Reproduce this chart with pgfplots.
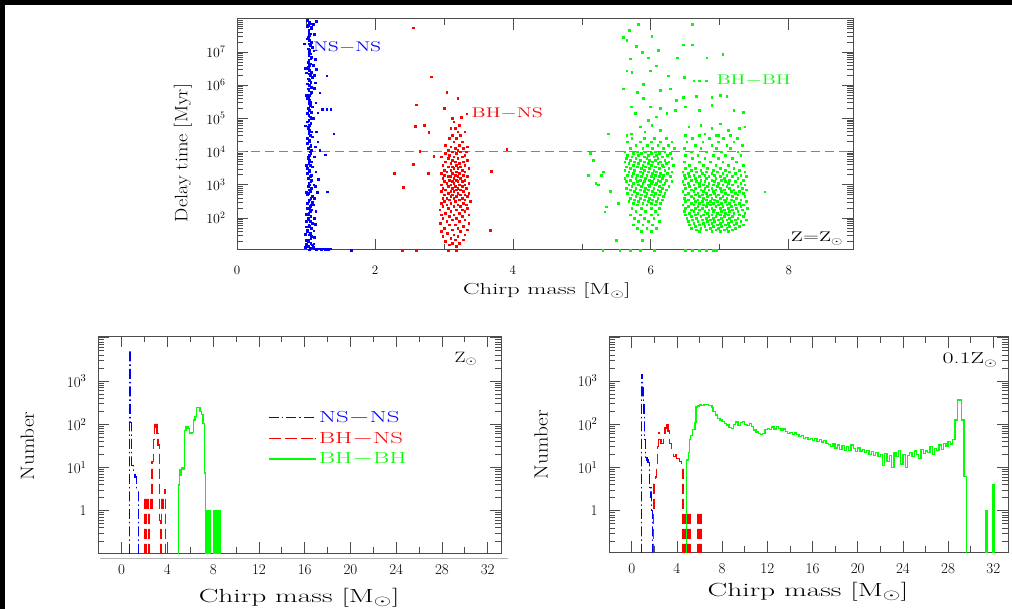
\documentclass[border=0pt]{standalone}
\usepackage{graphicx}
\usepackage{pgfplots}
\pgfplotsset{compat=1.18}
\definecolor{magline}{RGB}{235,60,235}
\newcommand{\wide}[2]{\scalebox{#1}[1]{#2}}
\pgfplotsset{
  pgbase/.style={scale only axis, anchor=south west,
    axis line style={black!70, line width=1pt},
    tick style={black!70, line width=0.8pt},
    major tick length=11pt, minor tick length=6pt,
    clip=true},
  pts/.style={only marks, mark=square*, mark size=0.85pt, mark options={draw=none}, forget plot},
  hist/.style={const plot, line width=1.3pt},
  nsns/.style={hist, blue,
    legend image code/.code={\draw[blue, line width=1.3pt] (0pt,0pt)--(10pt,0pt) (13pt,0pt)--(14.5pt,0pt) (17.5pt,0pt)--(27.5pt,0pt) (30.5pt,0pt)--(32pt,0pt) (35pt,0pt)--(45pt,0pt);}},
  bhns/.style={hist, red,
    legend image code/.code={\draw[red, line width=1.3pt] (0pt,0pt)--(12pt,0pt) (16pt,0pt)--(28pt,0pt) (32pt,0pt)--(44pt,0pt) (46pt,0pt)--(47pt,0pt);}},
  bhbh/.style={hist, green,
    legend image code/.code={\draw[green, line width=1.3pt] (0pt,0pt)--(47pt,0pt);}},
}
% stripe clips imitating the dash patterns (10 on / 5 off and dash-dot), in data units
\newcommand{\redstripes}{\clip (axis cs:-3,0.05) rectangle (axis cs:34,0.1704) (axis cs:-3,0.2224) rectangle (axis cs:34,0.3791) (axis cs:-3,0.4948) rectangle (axis cs:34,0.8432) (axis cs:-3,1.101) rectangle (axis cs:34,1.876) (axis cs:-3,2.448) rectangle (axis cs:34,4.173) (axis cs:-3,5.446) rectangle (axis cs:34,9.281) (axis cs:-3,12.11) rectangle (axis cs:34,20.64) (axis cs:-3,26.95) rectangle (axis cs:34,45.92) (axis cs:-3,59.95) rectangle (axis cs:34,102.2) (axis cs:-3,133.4) rectangle (axis cs:34,227.2) (axis cs:-3,296.6) rectangle (axis cs:34,505.4) (axis cs:-3,659.7) rectangle (axis cs:34,1124) (axis cs:-3,1468) rectangle (axis cs:34,2501) (axis cs:-3,3266) rectangle (axis cs:34,5565);}
\newcommand{\bluestripes}{\clip (axis cs:-3,0.05) rectangle (axis cs:34,0.1703) (axis cs:-3,0.1998) rectangle (axis cs:34,0.2164) (axis cs:-3,0.2540) rectangle (axis cs:34,0.4327) (axis cs:-3,0.5076) rectangle (axis cs:34,0.5497) (axis cs:-3,0.6451) rectangle (axis cs:34,1.099) (axis cs:-3,1.289) rectangle (axis cs:34,1.396) (axis cs:-3,1.638) rectangle (axis cs:34,2.791) (axis cs:-3,3.275) rectangle (axis cs:34,3.546) (axis cs:-3,4.161) rectangle (axis cs:34,7.088) (axis cs:-3,8.317) rectangle (axis cs:34,9.008) (axis cs:-3,10.57) rectangle (axis cs:34,18.00) (axis cs:-3,21.12) rectangle (axis cs:34,22.87) (axis cs:-3,26.84) rectangle (axis cs:34,45.73) (axis cs:-3,53.65) rectangle (axis cs:34,58.10) (axis cs:-3,68.19) rectangle (axis cs:34,116.1) (axis cs:-3,136.3) rectangle (axis cs:34,147.6) (axis cs:-3,173.2) rectangle (axis cs:34,294.9) (axis cs:-3,346.0) rectangle (axis cs:34,374.8) (axis cs:-3,439.8) rectangle (axis cs:34,749.0) (axis cs:-3,878.9) rectangle (axis cs:34,952.0) (axis cs:-3,1117) rectangle (axis cs:34,1902) (axis cs:-3,2232) rectangle (axis cs:34,2417) (axis cs:-3,2837) rectangle (axis cs:34,4832) (axis cs:-3,5670) rectangle (axis cs:34,6141) (axis cs:-3,7206) rectangle (axis cs:34,12270);}
\begin{document}
\begin{tikzpicture}
\useasboundingbox (0pt,0pt) rectangle (1012pt,-609pt);
\fill[black] (0pt,0pt) rectangle (1012pt,-5pt);
\fill[black] (0pt,0pt) rectangle (5pt,-609pt);
\draw[black!30, line width=1pt] (100pt,-558pt) -- (508pt,-558pt);

% ---------------- top panel ----------------
\begin{axis}[pgbase,
  at={(237pt,-250pt)}, width=616pt, height=231pt,
  xmin=0, xmax=8.93, ymode=log, ymin=10.9, ymax=9.9e7,
  xtick={0,2,4,6,8}, xticklabels={0,2,4,6,8}, minor xtick={1,3,5,7},
  ytick={1e2,1e3,1e4,1e5,1e6,1e7},
  yticklabels={10\textsuperscript{2},10\textsuperscript{3},10\textsuperscript{4},10\textsuperscript{5},10\textsuperscript{6},10\textsuperscript{7}},
  minor ytick={20,30,40,50,60,70,80,90,200,300,400,500,600,700,800,900,2000,3000,4000,5000,6000,7000,8000,9000,2e4,3e4,4e4,5e4,6e4,7e4,8e4,9e4,2e5,3e5,4e5,5e5,6e5,7e5,8e5,9e5,2e6,3e6,4e6,5e6,6e6,7e6,8e6,9e6,2e7,3e7,4e7,5e7,6e7,7e7,8e7,9e7},
  xticklabel style={font=\fontsize{13}{13}\selectfont, yshift=-12pt},
  yticklabel style={font=\fontsize{14}{14}\selectfont, xshift=-8pt},
  xlabel={\wide{1.55}{\fontsize{16}{16}\selectfont Chirp mass [M$_\odot$]}},
  xlabel style={at={(axis description cs:0.503,-0.177)}, anchor=center},
  ylabel={\wide{1.12}{\fontsize{18}{18}\selectfont Delay time [Myr]}},
  ylabel style={at={(axis description cs:-0.088,0.42)}, anchor=center},
]
% NS-NS column
\addplot[pts, blue] coordinates {
(1.05,1.12e1)(1.03,1.41e1)(1.07,1.78e1)(1.04,2.24e1)(1.08,2.82e1)(1.06,3.55e1)(1.02,4.47e1)(1.05,5.62e1)(1.09,7.08e1)(1.04,8.91e1)
(1.07,1.12e2)(1.04,1.41e2)(1.08,1.78e2)(1.06,2.24e2)(1.02,2.82e2)(1.05,3.55e2)(1.09,4.47e2)(1.04,5.62e2)(1.05,7.08e2)(1.03,8.91e2)
(1.04,1.12e3)(1.08,1.41e3)(1.06,1.78e3)(1.02,2.24e3)(1.05,2.82e3)(1.09,3.55e3)(1.04,4.47e3)(1.05,5.62e3)(1.03,7.08e3)(1.07,8.91e3)
(1.08,1.12e4)(1.06,1.41e4)(1.02,1.78e4)(1.05,2.24e4)(1.09,2.82e4)(1.04,3.55e4)(1.05,4.47e4)(1.03,5.62e4)(1.07,7.08e4)(1.04,8.91e4)
(1.06,1.12e5)(1.02,1.41e5)(1.05,1.78e5)(1.09,2.24e5)(1.04,2.82e5)(1.05,3.55e5)(1.03,4.47e5)(1.07,5.62e5)(1.04,7.08e5)(1.08,8.91e5)
(1.02,1.12e6)(1.05,1.41e6)(1.09,1.78e6)(1.04,2.24e6)(1.05,2.82e6)(1.03,3.55e6)(1.07,4.47e6)(1.04,5.62e6)(1.08,7.08e6)(1.06,8.91e6)
(1.05,1.12e7)(1.09,1.41e7)(1.04,1.78e7)(1.05,2.24e7)(1.03,2.82e7)(1.07,3.55e7)(1.04,4.47e7)(1.08,5.62e7)(1.06,7.08e7)(1.02,8.91e7)
(1.06,1.26e1)(1.09,1.58e1)(1.03,2e1)(1.07,2.51e1)(1.05,3.16e1)(1.02,3.98e1)(1.08,5.01e1)(1.04,6.31e1)(1.06,7.94e1)(1.03,1e2)
(1.03,1.26e2)(1.06,1.58e2)(1.05,2e2)(1.08,2.51e2)(1.04,3.16e2)(1.07,3.98e2)(1.02,5.01e2)(1.06,6.31e2)(1.08,7.94e2)(1.05,1e3)
(1.07,1.26e3)(1.03,1.58e3)(1.08,2e3)(1.05,2.51e3)(1.02,3.16e3)(1.06,3.98e3)(1.08,5.01e3)(1.03,6.31e3)(1.05,7.94e3)(1.06,1e4)
(1.03,1.26e4)(1.07,1.58e4)(1.05,2e4)(1.02,2.51e4)(1.06,3.16e4)(1.08,3.98e4)(1.03,5.01e4)(1.05,6.31e4)(1.02,7.94e4)(1.07,1e5)
(1.04,1.26e5)(1.08,1.58e5)(1.03,2e5)(1.06,2.51e5)(1.07,3.16e5)(1.02,3.98e5)(1.05,5.01e5)(1.08,6.31e5)(1.03,7.94e5)(1.05,1e6)
(1.07,1.26e6)(1.03,1.58e6)(1.06,2e6)(1.08,2.51e6)(1.02,3.16e6)(1.05,3.98e6)(1.03,5.01e6)(1.07,6.31e6)(1.04,7.94e6)(1.05,1e7)
(1.03,1.26e7)(1.06,1.58e7)(1.08,2e7)(1.02,2.51e7)(1.05,3.16e7)(1.04,3.98e7)(1.07,5.01e7)(1.03,6.31e7)(1.05,7.94e7)(1.07,1e8)
(0.99,1.3e1)(1.12,1.2e1)(1.15,1.15e1)(1.18,1.2e1)(1.22,1.15e1)(1.25,1.2e1)(1.28,1.18e1)(1.32,1.15e1)(1.35,1.2e1)(1.1,1.3e1)
(1.0,1.6e1)(1.11,1.7e1)(1.0,2.2e1)(1.12,2.6e1)(0.99,3.3e1)(1.11,4.2e1)(1.0,5.5e1)(1.13,6.5e1)(1.0,8e1)(1.12,1.0e2)
(1.0,1.3e2)(1.14,1.6e2)(1.01,2e2)(1.1,2.5e2)(1.12,4e2)(1.0,6e2)(1.13,9e2)(1.31,6.2e2)(1.28,8.1e3)(1.40,3.5e4)
(1.24,1.86e5)(1.30,1.86e5)(1.36,1.86e5)(1.30,1.95e6)(0.97,1.8e7)(1.15,3e6)(1.12,2e6)(0.99,3.2e6)(1.0,2.4e6)(1.13,1.2e6)
(1.12,8e5)(1.0,5e5)(1.14,3e5)(1.1,1.0e5)(0.99,6e4)(1.15,4e4)(1.17,2e4)(1.2,1.1e4)(1.12,7e3)(1.0,4e3)
(1.14,2.5e3)(1.18,1.5e3)(1.11,1e3)(1.16,6e2)(1.09,3e2)(1.1,7e7)(1.15,8.5e7)(1.08,5e7)(1.12,3.5e7)(1.02,6e7)
(1.11,1.1e7)(1.13,6e6)(1.1,4e6)(1.2,6e5)(1.17,1.5e5)(1.02,2.5e4)(1.13,1.4e4)(1.66,1.1e1)
};
% BH-NS
\addplot[pts, red] coordinates {
(3.18,1.41e1)(3.08,1.58e1)(3.22,1.78e1)(3.12,1.78e1)(3.02,2e1)(3.16,2.24e1)(3.28,2.24e1)(3.1,2.51e1)(2.98,2.82e1)(3.2,2.82e1)
(3.14,3.16e1)(3.3,3.16e1)(3.05,3.55e1)(3.24,3.98e1)(2.96,3.98e1)(3.12,4.47e1)(3.34,4.47e1)(3.0,5.01e1)(3.2,5.01e1)(3.28,5.62e1)
(3.08,6.31e1)(3.16,6.31e1)(2.95,7.08e1)(3.36,7.08e1)(3.22,7.94e1)(3.04,7.94e1)(3.12,8.91e1)(3.3,8.91e1)
(2.98,1e2)(3.18,1e2)(3.26,1.12e2)(3.08,1.12e2)(3.14,1.26e2)(3.36,1.26e2)(2.96,1.26e2)(3.02,1.41e2)(3.22,1.41e2)(3.3,1.58e2)
(3.1,1.58e2)(3.18,1.78e2)(2.94,1.78e2)(3.26,1.78e2)(3.06,2e2)(3.34,2e2)(3.14,2.24e2)(2.98,2.24e2)(3.24,2.24e2)(3.2,2.51e2)
(3.04,2.51e2)(3.32,2.51e2)(3.1,2.82e2)(3.28,2.82e2)(2.96,2.82e2)(3.16,3.16e2)(3.0,3.16e2)(3.38,3.16e2)(3.22,3.55e2)(3.08,3.55e2)
(3.3,3.55e2)(2.98,3.98e2)(3.14,3.98e2)(3.26,3.98e2)(3.04,3.98e2)(3.18,4.47e2)(3.34,4.47e2)(3.1,4.47e2)(3.0,5.01e2)(3.24,5.01e2)
(3.12,5.01e2)(3.3,5.01e2)(3.06,5.62e2)(3.2,5.62e2)(3.36,5.62e2)(3.14,6.31e2)(2.96,6.31e2)(3.28,6.31e2)(3.1,6.31e2)(3.02,7.08e2)
(3.18,7.08e2)(3.24,7.08e2)(3.12,7.94e2)(3.32,7.94e2)(2.98,7.94e2)(3.2,7.94e2)(3.06,8.91e2)(3.26,8.91e2)(3.16,8.91e2)
(3.1,1e3)(2.96,1e3)(3.22,1e3)(3.3,1e3)(3.14,1.12e3)(3.04,1.12e3)(3.36,1.12e3)(3.0,1.26e3)(3.2,1.26e3)(3.26,1.26e3)
(3.12,1.26e3)(3.08,1.41e3)(3.18,1.41e3)(3.3,1.41e3)(2.98,1.58e3)(3.14,1.58e3)(3.24,1.58e3)(3.06,1.78e3)(3.2,1.78e3)(3.34,1.78e3)
(3.1,1.78e3)(3.16,2e3)(3.0,2e3)(3.28,2e3)(3.12,2.24e3)(3.22,2.24e3)(2.96,2.24e3)(3.04,2.51e3)(3.18,2.51e3)(3.3,2.51e3)
(3.1,2.82e3)(3.26,2.82e3)(3.0,2.82e3)(3.14,3.16e3)(3.2,3.16e3)(3.36,3.16e3)(3.06,3.55e3)(3.24,3.55e3)(3.12,3.55e3)(2.98,3.98e3)
(3.18,3.98e3)(3.3,3.98e3)(3.1,4.47e3)(3.22,4.47e3)(3.02,5.01e3)(3.16,5.01e3)(3.28,5.01e3)(3.12,5.62e3)(3.34,5.62e3)(3.06,6.31e3)
(3.2,6.31e3)(3.14,7.08e3)(3.26,7.08e3)(2.96,7.08e3)(3.08,7.94e3)(3.3,7.94e3)(3.18,8.91e3)(3.02,8.91e3)
(3.12,1e4)(3.24,1e4)(3.32,1e4)(3.06,1.12e4)(3.2,1.12e4)(3.16,1.26e4)(3.28,1.26e4)(3.1,1.41e4)(3.34,1.41e4)(3.22,1.58e4)
(3.02,1.58e4)(3.14,2e4)(3.26,2e4)(3.18,2.51e4)(3.08,2.51e4)(3.24,3.16e4)(3.12,3.16e4)(3.2,3.98e4)(3.3,3.98e4)(3.1,5.01e4)
(3.16,5.01e4)(3.22,6.31e4)(3.14,7.94e4)(3.12,1e5)
(2.55,5.4e7)(2.82,1.8e6)(3.04,6.2e5)(3.20,4.1e5)(2.60,2.6e5)(2.58,5.8e4)(2.71,6.2e4)(2.78,3.9e4)(2.65,1.05e4)(2.85,7.2e3)
(2.55,4.1e3)(2.28,2.2e3)(2.77,2.2e3)(2.41,8.3e2)(3.69,2.6e3)(3.91,1.2e4)(3.67,4.4e1)(3.33,1.4e5)(3.0,2e5)(3.25,1.1e5)
(2.39,1.1e1)(2.6,1.1e1)(3.06,1.1e1)(3.18,1.1e1)
};
% BH-BH
\addplot[pts, green] coordinates {
(5.82,6.8e7)(6.60,6.8e7)(5.69,4.47e7)(5.60,2.75e7)(6.01,2.95e7)(5.79,1.48e7)(6.47,1.66e7)(6.60,1.66e7)(5.65,2.24e7)(5.87,1e7)
(6.11,1.12e7)(6.81,6.8e6)(7.04,8.5e6)(5.70,6.3e6)(5.96,6.8e6)(6.38,6.8e6)(6.08,3.9e6)(5.65,2.75e6)(5.72,2.45e6)(5.99,2.75e6)
(6.25,1.95e6)(6.48,1.74e6)(6.62,1.38e6)(6.7,1.38e6)(6.8,1.38e6)(5.60,7.8e5)(5.89,1.1e6)(5.80,6.2e5)(6.13,7.2e5)(6.28,7.8e5)
(5.89,4e5)(6.37,3.5e5)(6.47,4.3e5)(6.66,4.6e5)(6.88,4.3e5)(7.0,5e5)(7.10,4.6e5)
(5.71,2.24e5)(5.77,1.41e5)(5.99,2.24e5)(6.13,2e5)(6.23,1.41e5)(6.35,1.78e5)(5.96,8.9e4)(6.08,1.12e5)(5.84,5.6e4)(5.91,4e4)
(6.01,6.3e4)(6.13,4.5e4)(5.71,3.5e4)(5.65,3.2e4)(5.38,3.5e4)(5.12,8.9e3)(5.16,5.6e3)(5.31,2.5e3)(5.28,2e3)(5.09,2e3)
(5.2,1.12e3)(5.24,1e3)(5.41,6.3e2)(5.35,2.2e2)(5.33,1.55e2)(5.53,2.75e2)(5.5,2.2e1)(5.87,2.2e1)(7.65,6.2e2)
(6.5,2.24e5)(6.7,1.78e5)(6.88,2.5e5)(7.2,1.78e5)(7.34,1.58e5)(6.55,5.6e4)(6.72,6.3e4)(6.88,5e4)(7.0,7e4)(7.12,4.5e4)
(7.28,5e4)(7.36,5.6e4)(6.78,3.5e4)(6.98,3.2e4)
(5.3,1.1e1)(5.55,1.1e1)(5.7,1.1e1)(5.85,1.1e1)(6.05,1.1e1)(6.5,1.1e1)(6.6,1.1e1)(6.7,1.1e1)(6.8,1.1e1)(6.9,1.1e1)(6.95,1.1e1)
(5.72,2.51e4)(5.9,2.51e4)(6.05,2.51e4)(6.22,2.51e4)
(5.66,2e4)(5.84,2e4)(6.0,2e4)(6.14,2e4)(6.3,2e4)
(5.78,1.58e4)(5.95,1.58e4)(6.1,1.58e4)(6.25,1.58e4)
(5.7,1.26e4)(5.88,1.26e4)(6.02,1.26e4)(6.18,1.26e4)(6.34,1.26e4)
(5.62,1e4)(5.8,1e4)(5.92,1e4)(6.06,1e4)(6.2,1e4)
(5.74,8.91e3)(5.86,8.91e3)(6.0,8.91e3)(6.12,8.91e3)(6.28,8.91e3)
(5.66,7.94e3)(5.82,7.94e3)(5.96,7.94e3)(6.08,7.94e3)(6.24,7.94e3)
(5.72,7.08e3)(5.9,7.08e3)(6.04,7.08e3)(6.16,7.08e3)
(5.64,6.31e3)(5.78,6.31e3)(5.94,6.31e3)(6.1,6.31e3)(6.3,6.31e3)
(5.7,5.62e3)(5.84,5.62e3)(5.98,5.62e3)(6.06,5.62e3)(6.2,5.62e3)
(5.62,5.01e3)(5.76,5.01e3)(5.9,5.01e3)(6.02,5.01e3)(6.14,5.01e3)(6.26,5.01e3)
(5.68,4.47e3)(5.82,4.47e3)(5.96,4.47e3)(6.1,4.47e3)(6.22,4.47e3)
(5.74,3.98e3)(5.88,3.98e3)(6.0,3.98e3)(6.16,3.98e3)(6.32,3.98e3)
(5.64,3.55e3)(5.8,3.55e3)(5.92,3.55e3)(6.06,3.55e3)(6.18,3.55e3)
(5.7,3.16e3)(5.86,3.16e3)(5.98,3.16e3)(6.12,3.16e3)(6.26,3.16e3)
(5.62,2.82e3)(5.76,2.82e3)(5.9,2.82e3)(6.04,2.82e3)(6.2,2.82e3)
(5.68,2.51e3)(5.84,2.51e3)(5.96,2.51e3)(6.08,2.51e3)(6.3,2.51e3)
(5.74,2.24e3)(5.88,2.24e3)(6.02,2.24e3)(6.14,2.24e3)(6.24,2.24e3)
(5.66,2e3)(5.8,2e3)(5.94,2e3)(6.06,2e3)(6.18,2e3)
(5.72,1.78e3)(5.86,1.78e3)(6.0,1.78e3)(6.12,1.78e3)(6.28,1.78e3)
(5.62,1.58e3)(5.78,1.58e3)(5.92,1.58e3)(6.04,1.58e3)(6.16,1.58e3)
(5.7,1.41e3)(5.84,1.41e3)(5.98,1.41e3)(6.1,1.41e3)(6.22,1.41e3)
(5.64,1.26e3)(5.8,1.26e3)(5.9,1.26e3)(6.02,1.26e3)(6.14,1.26e3)(6.3,1.26e3)
(5.74,1.12e3)(5.88,1.12e3)(6.0,1.12e3)(6.08,1.12e3)(6.2,1.12e3)
(5.68,1e3)(5.82,1e3)(5.96,1e3)(6.06,1e3)(6.18,1e3)
(5.72,891)(5.86,891)(5.98,891)(6.12,891)(6.26,891)
(5.64,794)(5.78,794)(5.92,794)(6.04,794)(6.16,794)
(5.7,708)(5.84,708)(5.96,708)(6.1,708)(6.22,708)
(5.76,631)(5.9,631)(6.02,631)(6.14,631)
(5.66,562)(5.8,562)(5.94,562)(6.06,562)(6.2,562)
(5.72,501)(5.86,501)(6.0,501)(6.12,501)
(5.78,447)(5.92,447)(6.04,447)(6.18,447)
(5.7,398)(5.84,398)(5.98,398)(6.1,398)
(5.76,355)(5.9,355)(6.02,355)(6.16,355)
(5.68,316)(5.82,316)(5.96,316)(6.08,316)
(5.74,282)(5.88,282)(6.0,282)(6.14,282)
(5.8,251)(5.94,251)(6.06,251)
(5.72,200)(5.86,200)(6.0,200)(6.12,200)
(5.78,158)(5.92,158)(6.06,158)
(5.7,126)(5.84,126)(6.0,126)(6.1,126)
(5.76,100)(5.9,100)(6.04,100)
(5.82,79.4)(5.96,79.4)(6.12,79.4)
(5.74,63.1)(5.88,63.1)(6.02,63.1)
(5.8,50.1)(5.94,50.1)(6.08,50.1)
(5.86,39.8)(6.0,39.8)
(6.5,3.16e4)(6.7,3.16e4)(6.95,3.16e4)(7.15,3.16e4)
(6.6,2.51e4)(6.85,2.51e4)(7.05,2.51e4)(7.25,2.51e4)
(6.52,2e4)(6.75,2e4)(6.98,2e4)(7.2,2e4)
(6.64,1.58e4)(6.88,1.58e4)(7.1,1.58e4)(7.32,1.58e4)
(6.48,1.26e4)(6.72,1.26e4)(6.95,1.26e4)(7.15,1.26e4)
(6.58,1e4)(6.8,1e4)(7.02,1e4)(7.26,1e4)
(6.5,7.94e3)(6.68,7.94e3)(6.9,7.94e3)(7.08,7.94e3)(7.3,7.94e3)
(6.6,6.31e3)(6.78,6.31e3)(6.98,6.31e3)(7.18,6.31e3)
(6.48,5.01e3)(6.7,5.01e3)(6.86,5.01e3)(7.04,5.01e3)(7.24,5.01e3)
(6.56,3.98e3)(6.76,3.98e3)(6.94,3.98e3)(7.12,3.98e3)(7.34,3.98e3)
(6.5,3.16e3)(6.64,3.16e3)(6.82,3.16e3)(7.0,3.16e3)(7.2,3.16e3)
(6.58,2.82e3)(6.72,2.82e3)(6.9,2.82e3)(7.08,2.82e3)(7.28,2.82e3)
(6.46,2.51e3)(6.66,2.51e3)(6.8,2.51e3)(6.96,2.51e3)(7.14,2.51e3)(7.36,2.51e3)
(6.54,2.24e3)(6.74,2.24e3)(6.88,2.24e3)(7.04,2.24e3)(7.22,2.24e3)
(6.48,2e3)(6.62,2e3)(6.78,2e3)(6.92,2e3)(7.1,2e3)(7.3,2e3)
(6.56,1.78e3)(6.7,1.78e3)(6.84,1.78e3)(7.0,1.78e3)(7.18,1.78e3)(7.38,1.78e3)
(6.5,1.58e3)(6.64,1.58e3)(6.8,1.58e3)(6.94,1.58e3)(7.06,1.58e3)(7.26,1.58e3)
(6.58,1.41e3)(6.72,1.41e3)(6.88,1.41e3)(7.02,1.41e3)(7.14,1.41e3)(7.34,1.41e3)
(6.46,1.26e3)(6.66,1.26e3)(6.78,1.26e3)(6.92,1.26e3)(7.08,1.26e3)(7.22,1.26e3)
(6.54,1.12e3)(6.7,1.12e3)(6.84,1.12e3)(6.98,1.12e3)(7.12,1.12e3)(7.3,1.12e3)
(6.48,1e3)(6.62,1e3)(6.76,1e3)(6.9,1e3)(7.04,1e3)(7.18,1e3)(7.36,1e3)
(6.56,891)(6.7,891)(6.82,891)(6.96,891)(7.1,891)(7.26,891)
(6.5,794)(6.64,794)(6.78,794)(6.88,794)(7.0,794)(7.14,794)(7.32,794)
(6.58,708)(6.72,708)(6.84,708)(6.94,708)(7.06,708)(7.2,708)(7.38,708)
(6.46,631)(6.62,631)(6.76,631)(6.9,631)(7.02,631)(7.16,631)(7.28,631)
(6.54,562)(6.68,562)(6.8,562)(6.92,562)(7.08,562)(7.22,562)(7.34,562)
(6.5,501)(6.64,501)(6.74,501)(6.86,501)(6.98,501)(7.12,501)(7.26,501)
(6.58,447)(6.7,447)(6.82,447)(6.94,447)(7.04,447)(7.18,447)(7.36,447)
(6.48,398)(6.62,398)(6.76,398)(6.88,398)(7.0,398)(7.1,398)(7.24,398)
(6.54,355)(6.68,355)(6.8,355)(6.92,355)(7.06,355)(7.16,355)(7.3,355)
(6.5,316)(6.64,316)(6.74,316)(6.86,316)(6.96,316)(7.08,316)(7.2,316)(7.38,316)
(6.58,282)(6.7,282)(6.82,282)(6.9,282)(7.02,282)(7.14,282)(7.28,282)
(6.46,251)(6.62,251)(6.76,251)(6.86,251)(6.98,251)(7.1,251)(7.22,251)(7.34,251)
(6.54,224)(6.68,224)(6.8,224)(6.94,224)(7.04,224)(7.16,224)(7.3,224)
(6.5,200)(6.64,200)(6.74,200)(6.88,200)(7.0,200)(7.12,200)(7.24,200)(7.4,200)
(6.58,178)(6.7,178)(6.84,178)(6.92,178)(7.06,178)(7.18,178)(7.32,178)
(6.48,158)(6.62,158)(6.78,158)(6.9,158)(7.02,158)(7.14,158)(7.26,158)
(6.56,141)(6.68,141)(6.82,141)(6.96,141)(7.08,141)(7.2,141)(7.36,141)
(6.5,126)(6.64,126)(6.76,126)(6.88,126)(7.0,126)(7.12,126)(7.28,126)
(6.58,112)(6.72,112)(6.84,112)(6.94,112)(7.06,112)(7.18,112)(7.34,112)
(6.52,100)(6.66,100)(6.8,100)(6.9,100)(7.02,100)(7.14,100)(7.26,100)
(6.6,89.1)(6.74,89.1)(6.86,89.1)(6.98,89.1)(7.1,89.1)(7.22,89.1)(7.38,89.1)
(6.54,79.4)(6.68,79.4)(6.82,79.4)(6.92,79.4)(7.04,79.4)(7.16,79.4)(7.3,79.4)
(6.62,70.8)(6.76,70.8)(6.88,70.8)(7.0,70.8)(7.12,70.8)(7.24,70.8)
(6.56,63.1)(6.7,63.1)(6.84,63.1)(6.96,63.1)(7.08,63.1)(7.2,63.1)(7.34,63.1)
(6.64,56.2)(6.78,56.2)(6.9,56.2)(7.02,56.2)(7.14,56.2)(7.28,56.2)
(6.58,50.1)(6.72,50.1)(6.86,50.1)(6.98,50.1)(7.1,50.1)(7.22,50.1)
(6.66,44.7)(6.8,44.7)(6.94,44.7)(7.06,44.7)(7.18,44.7)
(6.7,39.8)(6.88,39.8)(7.0,39.8)(7.12,39.8)
};
\addplot[magline, line width=1.3pt, forget plot, unbounded coords=jump] coordinates {
(0,1e4)(0.130,1e4)(nan,nan)(0.203,1e4)(0.333,1e4)(nan,nan)(0.406,1e4)(0.536,1e4)(nan,nan)(0.609,1e4)(0.739,1e4)(nan,nan)
(0.812,1e4)(0.942,1e4)(nan,nan)(1.015,1e4)(1.145,1e4)(nan,nan)(1.217,1e4)(1.347,1e4)(nan,nan)(1.420,1e4)(1.550,1e4)(nan,nan)
(1.623,1e4)(1.753,1e4)(nan,nan)(1.826,1e4)(1.956,1e4)(nan,nan)(2.029,1e4)(2.159,1e4)(nan,nan)(2.232,1e4)(2.362,1e4)(nan,nan)
(2.435,1e4)(2.565,1e4)(nan,nan)(2.638,1e4)(2.768,1e4)(nan,nan)(2.841,1e4)(2.971,1e4)(nan,nan)(3.044,1e4)(3.174,1e4)(nan,nan)
(3.246,1e4)(3.376,1e4)(nan,nan)(3.449,1e4)(3.579,1e4)(nan,nan)(3.652,1e4)(3.782,1e4)(nan,nan)(3.855,1e4)(3.985,1e4)(nan,nan)
(4.058,1e4)(4.188,1e4)(nan,nan)(4.261,1e4)(4.391,1e4)(nan,nan)(4.464,1e4)(4.594,1e4)(nan,nan)(4.667,1e4)(4.797,1e4)(nan,nan)
(4.870,1e4)(5.000,1e4)(nan,nan)(5.073,1e4)(5.203,1e4)(nan,nan)(5.275,1e4)(5.405,1e4)(nan,nan)(5.478,1e4)(5.608,1e4)(nan,nan)
(5.681,1e4)(5.811,1e4)(nan,nan)(5.884,1e4)(6.014,1e4)(nan,nan)(6.087,1e4)(6.217,1e4)(nan,nan)(6.290,1e4)(6.420,1e4)(nan,nan)
(6.493,1e4)(6.623,1e4)(nan,nan)(6.696,1e4)(6.826,1e4)(nan,nan)(6.899,1e4)(7.029,1e4)(nan,nan)(7.102,1e4)(7.232,1e4)(nan,nan)
(7.304,1e4)(7.434,1e4)(nan,nan)(7.507,1e4)(7.637,1e4)(nan,nan)(7.710,1e4)(7.840,1e4)(nan,nan)(7.913,1e4)(8.043,1e4)(nan,nan)
(8.116,1e4)(8.246,1e4)(nan,nan)(8.319,1e4)(8.449,1e4)(nan,nan)(8.522,1e4)(8.652,1e4)(nan,nan)(8.725,1e4)(8.855,1e4)
};
\node[anchor=west, inner sep=0pt, text=blue] at (axis cs:1.10,1.41e7) {\wide{1.45}{\fontsize{14}{14}\selectfont NS$-$NS}};
\node[anchor=west, inner sep=0pt, text=red] at (axis cs:3.40,1.41e5) {\wide{1.45}{\fontsize{14}{14}\selectfont BH$-$NS}};
\node[anchor=west, inner sep=0pt, text=green] at (axis cs:6.95,1.38e6) {\wide{1.45}{\fontsize{14}{14}\selectfont BH$-$BH}};
\node[anchor=east, inner sep=0pt] at (axis cs:8.79,2.4e1) {\wide{1.45}{\fontsize{14}{14}\selectfont Z$=$Z$_\odot$}};
\end{axis}

% ---------------- bottom left ----------------
\begin{axis}[pgbase,
  at={(98pt,-553pt)}, width=403pt, height=217pt,
  xmin=-2.07, xmax=33.16, ymode=log, ymin=0.105, ymax=1.1e4,
  xtick={0,4,8,12,16,20,24,28,32}, xticklabels={0,4,8,12,16,20,24,28,32},
  minor xtick={-2,2,6,10,14,18,22,26,30},
  ytick={0.1,1,10,100,1000,10000},
  yticklabels={{},1,10\textsuperscript{1},10\textsuperscript{2},10\textsuperscript{3},{}},
  minor ytick={0.2,0.3,0.4,0.5,0.6,0.7,0.8,0.9,2,3,4,5,6,7,8,9,20,30,40,50,60,70,80,90,200,300,400,500,600,700,800,900,2000,3000,4000,5000,6000,7000,8000,9000},
  xticklabel style={font=\fontsize{15}{15}\selectfont, yshift=-8pt},
  yticklabel style={font=\fontsize{15}{15}\selectfont, xshift=-8pt},
  xlabel={\wide{1.55}{\fontsize{19}{19}\selectfont Chirp mass [M$_\odot$]}},
  xlabel style={at={(axis description cs:0.499,-0.207)}, anchor=center},
  ylabel={\wide{1.12}{\fontsize{19}{19}\selectfont Number}},
  ylabel style={at={(axis description cs:-0.175,0.493)}, anchor=center},
  legend style={at={(0.4218,0.656)}, anchor=north west, draw=none, fill=none, inner sep=0pt,
    row sep=7pt, column sep=2pt, font=\fontsize{16}{16}\selectfont,
    nodes={inner sep=0.5pt}},
  legend cell align=left,
]
\begin{scope}
\bluestripes
\addplot[nsns] coordinates {(0.5,0.05)(0.70,5200)(0.72,110)(0.88,11)(1.02,8)(1.16,6)(1.31,3)(1.45,0.05)(1.6,0.05)};
\addlegendentry[text=blue]{\wide{1.55}{NS$-$NS}}
\end{scope}
\begin{scope}
\redstripes
\addplot[bhns] coordinates {(1.9,0.05)(2.05,2)(2.12,0.05)(2.2,1)(2.28,2)(2.36,0.05)(2.42,1)(2.5,2)(2.58,1)(2.64,14)(2.76,45)(2.84,85)(2.9,110)(3.08,62)(3.18,33)(3.32,0.6)(3.4,0.05)(3.46,2)(3.55,1)(3.62,2)(3.72,3)(3.84,0.05)(4.0,0.05)};
\addlegendentry[text=red]{\wide{1.55}{BH$-$NS}}
\end{scope}
\addplot[bhbh] coordinates {(4.8,0.05)(4.96,3.9)(5.06,8.7)(5.14,6.5)(5.22,10)(5.36,9)(5.48,73)(5.62,88)(5.8,80)(5.94,63)(6.14,65)(6.28,125)(6.42,150)(6.56,240)(6.84,200)(6.98,165)(7.12,105)(7.22,7.5)(7.3,1)(7.34,0.05)(7.38,1)(7.42,0.05)(7.46,1)(7.5,0.05)(7.54,1)(7.58,0.05)(7.62,1)(7.66,0.05)(7.7,1)(7.74,0.05)(8.02,1)(8.06,0.05)(8.1,1)(8.14,0.05)(8.18,1)(8.22,0.05)(8.26,1)(8.3,0.05)(8.34,1)(8.38,0.05)(8.42,1)(8.46,0.05)(8.5,1)(8.54,0.05)(8.58,1)(8.62,0.05)(9,0.05)};
\addlegendentry[text=green]{\wide{1.55}{BH$-$BH}}
\node[anchor=east, inner sep=0pt] at (axis cs:31.1,3.2e3) {\wide{1.3}{\fontsize{15}{15}\selectfont Z$_\odot$}};
\end{axis}

% ---------------- bottom right ----------------
\begin{axis}[pgbase,
  at={(609pt,-552pt)}, width=399pt, height=215pt,
  xmin=-2.01, xmax=33.3, ymode=log, ymin=0.111, ymax=1.04e4,
  xtick={0,4,8,12,16,20,24,28,32}, xticklabels={0,4,8,12,16,20,24,28,32},
  minor xtick={-2,2,6,10,14,18,22,26,30},
  ytick={0.1,1,10,100,1000,10000},
  yticklabels={{},1,10\textsuperscript{1},10\textsuperscript{2},10\textsuperscript{3},{}},
  minor ytick={0.2,0.3,0.4,0.5,0.6,0.7,0.8,0.9,2,3,4,5,6,7,8,9,20,30,40,50,60,70,80,90,200,300,400,500,600,700,800,900,2000,3000,4000,5000,6000,7000,8000,9000},
  xticklabel style={font=\fontsize{15}{15}\selectfont, yshift=-8pt},
  yticklabel style={font=\fontsize{15}{15}\selectfont, xshift=-8pt},
  xlabel={\wide{1.55}{\fontsize{19}{19}\selectfont Chirp mass [M$_\odot$]}},
  xlabel style={at={(axis description cs:0.4987,-0.186)}, anchor=center},
  ylabel={\wide{1.12}{\fontsize{19}{19}\selectfont Number}},
  ylabel style={at={(axis description cs:-0.170,0.498)}, anchor=center},
]
\begin{scope}
\bluestripes
\addplot[nsns] coordinates {(0.7,0.05)(0.88,1380)(0.92,1000)(0.96,700)(1.0,450)(1.04,280)(1.08,160)(1.12,90)(1.16,45)(1.2,25)(1.25,17)(1.35,15)(1.45,13)(1.55,10)(1.6,3.5)(1.7,2)(1.78,1)(1.86,0.05)(2.0,0.05)};
\end{scope}
\begin{scope}
\redstripes
\addplot[bhns] coordinates {(1.8,0.05)(1.91,1)(1.97,5)(2.1,6)(2.2,10.4)(2.3,30)(2.36,63)(2.46,45)(2.6,36)(2.8,50)(2.95,82)(3.1,100)(3.2,70)(3.35,36)(3.5,25)(3.68,18)(3.85,20)(3.97,16)(4.2,14)(4.4,10)(4.55,0.05)(4.72,1)(4.8,0.05)(4.85,1)(4.95,0.05)(5.05,1)(5.16,0.05)(5.85,1)(5.95,0.05)(6.0,1)(6.1,0.05)(6.12,1)(6.2,0.05)(6.5,0.05)};
\end{scope}
\addplot[bhbh] coordinates {(4.7,0.05)(4.86,15)(5.0,22)(5.1,45)(5.2,55)(5.4,75)(5.6,110)(5.7,250)(5.8,265)(6.0,280)(6.2,270)(6.4,285)(6.6,282)(6.8,268)(7.0,275)(7.1,240)(7.2,200)(7.4,164)(7.6,135)(7.8,125)
(8.0,115)(8.2,105)(8.4,96)(8.6,85)(8.8,80)(9.0,100)(9.2,112)(9.4,95)(9.6,108)(9.8,114)(10.0,100)(10.2,92)(10.4,105)(10.6,88)(10.8,73)(11.0,66)(11.2,60)(11.4,57)(11.6,62)(11.8,75)
(12.0,80)(12.2,76)(12.4,86)(12.6,78)(12.8,88)(13.0,80)(13.2,74)(13.4,77)(13.6,67)(13.8,62)(14.0,65)(14.2,58)(14.4,63)(14.6,57)(14.8,52)(15.0,55)(15.2,47)(15.4,50)(15.6,44)(15.8,47)
(16.0,42)(16.2,46)(16.4,40)(16.6,44)(16.8,39)(17.0,42)(17.2,36)(17.4,34)(17.6,30)(17.8,36)(18.0,28)(18.2,33)(18.4,26)(18.6,32)(18.8,25)(19.0,30)(19.2,25)(19.4,33)(19.6,27)(19.8,23)
(20.0,28)(20.2,24)(20.4,26)(20.6,22)(20.8,25)(21.0,20)(21.2,23)(21.4,19)(21.6,22)(21.8,18)(22.0,20)(22.2,11)(22.4,21)(22.6,14)(22.8,19)(23.0,10)(23.2,22)(23.4,18)(23.6,25)(23.8,12)
(24.0,20)(24.2,10)(24.4,19)(24.6,22)(24.8,18)(25.0,24)(25.2,20)(25.4,16)(25.6,26)(25.8,21)(26.0,24)(26.2,22)(26.4,30)(26.6,20)(26.8,27)(27.0,25)(27.2,33)(27.4,26)(27.6,36)(27.8,30)
(28.0,40)(28.2,35)(28.4,45)(28.6,125)(28.85,365)(29.2,125)(29.4,6.2)(29.6,0.05)(31.36,1)(31.44,0.05)(31.98,4)(32.12,0.05)(33.3,0.05)};
\node[anchor=east, inner sep=0pt] at (axis cs:32.4,3.1e3) {\wide{1.5}{\fontsize{16}{16}\selectfont 0.1Z$_\odot$}};
\end{axis}
\end{tikzpicture}
\end{document}
